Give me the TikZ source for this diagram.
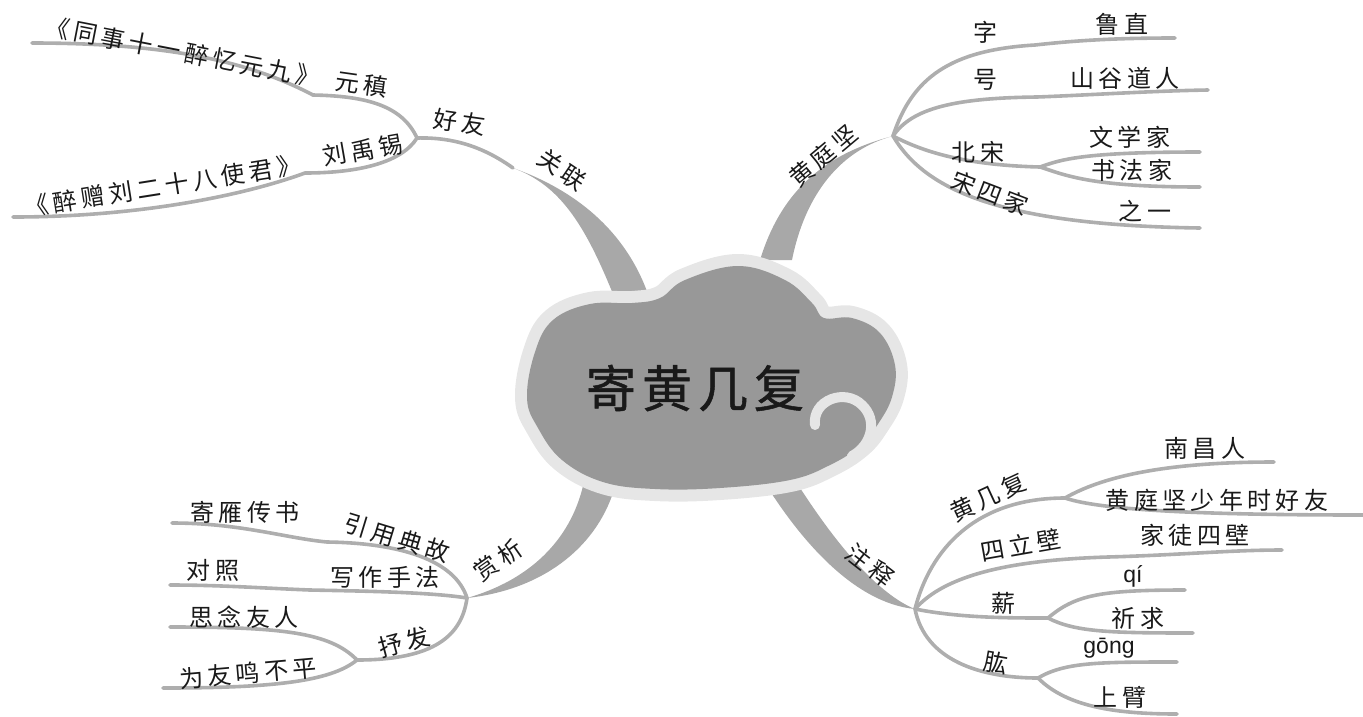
\documentclass[tikz,border=0pt]{standalone}
\usepackage{fontspec}
\setmainfont{Liberation Sans}
\newfontfamily\cjk[LetterSpace=18]{Noto Sans CJK SC}
\newfontfamily\cjkttl[LetterSpace=12, FakeBold=1]{Noto Sans CJK SC}
\usepackage{tikz}
\definecolor{cloudbody}{RGB}{152,152,152}
\definecolor{cloudedge}{RGB}{230,230,230}
\definecolor{trunkc}{RGB}{168,168,168}
\definecolor{twigc}{RGB}{174,174,174}
\definecolor{inkc}{RGB}{25,25,25}

\begin{document}
\begin{tikzpicture}[x=1pt, y=-1pt,
  trunk/.style={fill=trunkc, draw=none},
  twig/.style={draw=twigc, line width=3.6pt, line cap=round},
  lbl/.style={font=\cjk\fontsize{24}{26}\selectfont, text=inkc, inner sep=0pt},
  py/.style={font=\fontsize{23}{26}\selectfont, text=inkc, inner sep=0pt},
  ttl/.style={font=\cjkttl\fontsize{50}{54}\selectfont, text=inkc, inner sep=0pt}]
\useasboundingbox (0,0) rectangle (1363,716);

\coordinate (gl) at (513,168);
\coordinate (hy) at (417,138);
\coordinate (yzk) at (313,95);
\coordinate (yze) at (32,43);
\coordinate (lyk) at (305,173);
\coordinate (lye) at (13,217);
\coordinate (hz) at (893,136);
\coordinate (zik) at (1035,45);
\coordinate (zie) at (1175,38);
\coordinate (haok) at (1037,97);
\coordinate (haoe) at (1208,90);
\coordinate (bsk) at (1040,167);
\coordinate (wxe) at (1200,152);
\coordinate (sfe) at (1200,187);
\coordinate (sje) at (1200,228);
\coordinate (sx) at (467,598);
\coordinate (yyk) at (327,542);
\coordinate (yye) at (172,523);
\coordinate (xzk) at (310,590);
\coordinate (xze) at (170,585);
\coordinate (sfk) at (357,660);
\coordinate (sne) at (170,627);
\coordinate (wye) at (163,688);
\coordinate (zs) at (915,609);
\coordinate (hjk) at (1065,498);
\coordinate (nce) at (1274,462);
\coordinate (hse) at (1363,515);
\coordinate (slk) at (1108,557);
\coordinate (sle) at (1282,550);
\coordinate (xk) at (1048,618);
\coordinate (qie) at (1185,590);
\coordinate (qqe) at (1193,633);
\coordinate (gk) at (1038,678);
\coordinate (gge) at (1177,662);
\coordinate (sbe) at (1177,714);

\fill[trunk] (613,294) .. controls (585,225) and (560,185) .. (gl)
  .. controls (575,190) and (625,230) .. (648,294) -- cycle;
\fill[trunk] (760,260) .. controls (780,195) and (820,155) .. (hz)
  .. controls (840,150) and (805,195) .. (792,260) -- cycle;
\fill[trunk] (583,486) .. controls (570,540) and (530,580) .. (sx)
  .. controls (540,590) and (595,550) .. (614,490) -- cycle;
\fill[trunk] (763,480) .. controls (800,540) and (854,603) .. (zs)
  .. controls (880,595) and (838,548) .. (795,480) -- cycle;

\draw[twig] (gl) .. controls (485,148) and (455,137) .. (hy);
\draw[twig] (hy) .. controls (402,105) and (365,96) .. (yzk)
  .. controls (250,62) and (170,43) .. (yze);
\draw[twig] (hy) .. controls (402,162) and (360,173) .. (lyk)
  .. controls (245,195) and (140,217) .. (lye);

\draw[twig] (hz) .. controls (912,78) and (950,50) .. (zik)
  .. controls (1080,40) and (1120,38) .. (zie);
\draw[twig] (hz) .. controls (912,108) and (955,98) .. (haok)
  .. controls (1090,95) and (1150,91) .. (haoe);
\draw[twig] (hz) .. controls (920,150) and (960,165) .. (bsk);
\draw[twig] (bsk) .. controls (1060,160) and (1080,152) .. (wxe);
\draw[twig] (bsk) .. controls (1065,175) and (1090,187) .. (sfe);
\draw[twig] (hz) .. controls (925,190) and (1000,225) .. (sje);

\draw[twig] (sx) .. controls (455,560) and (400,543) .. (yyk)
  .. controls (285,538) and (240,523) .. (yye);
\draw[twig] (sx) .. controls (430,592) and (360,591) .. (xzk)
  .. controls (260,588) and (220,585) .. (xze);
\draw[twig] (sx) .. controls (462,635) and (435,660) .. (sfk);
\draw[twig] (sfk) .. controls (330,632) and (280,627) .. (sne);
\draw[twig] (sfk) .. controls (330,682) and (270,688) .. (wye);

\draw[twig] (zs) .. controls (930,550) and (975,498) .. (hjk);
\draw[twig] (hjk) .. controls (1100,478) and (1160,462) .. (nce);
\draw[twig] (hjk) .. controls (1100,510) and (1200,515) .. (hse);
\draw[twig] (zs) .. controls (945,575) and (1010,560) .. (slk)
  .. controls (1180,555) and (1230,550) .. (sle);
\draw[twig] (zs) .. controls (960,618) and (1010,618) .. (xk);
\draw[twig] (xk) .. controls (1075,595) and (1100,590) .. (qie);
\draw[twig] (xk) .. controls (1075,632) and (1110,633) .. (qqe);
\draw[twig] (zs) .. controls (925,660) and (980,678) .. (gk);
\draw[twig] (gk) .. controls (1065,662) and (1100,662) .. (gge);
\draw[twig] (gk) .. controls (1065,705) and (1110,714) .. (sbe);

\fill[cloudbody, preaction={draw=cloudedge, line width=24pt, line join=round}]
  plot[smooth cycle, tension=.65] coordinates {
  (527,398) (535,352) (553,320) (590,304) (632,303) (660,298) (685,280)
  (738,266) (785,280) (812,303) (824,318) (852,318) (880,333) (895,365)
  (892,397) (878,424) (860,446) (830,465) (790,480) (720,488) (655,489)
  (603,482) (562,460) (538,428)};
\draw[cloudedge, line width=10pt, line cap=round]
  (815,425) .. controls (812,400) and (845,388) .. (862,405)
  .. controls (878,420) and (872,445) .. (852,456);

\node[ttl] (root) at (695,388) {寄黄几复};

\node[lbl, rotate=-34] (gl-t) at (562,170) {关联};
\node[lbl, rotate=-8] (hy-t) at (460,122) {好友};
\node[lbl, rotate=-11] (yz-t) at (183,52) {《同事十一醉忆元九》};
\node[lbl, rotate=-8] (yj-t) at (362,84) {元稹};
\node[lbl, rotate=10] (lyx-t) at (363,150) {刘禹锡};
\node[lbl, rotate=9] (zz-t) at (163,186) {《醉赠刘二十八使君》};

\node[lbl, rotate=40] (hzj-t) at (823,156) {黄庭坚};
\node[lbl] (zi-t) at (985,32) {字};
\node[lbl] (lz-t) at (1122,24) {鲁直};
\node[lbl] (hao-t) at (985,80) {号};
\node[lbl] (sg-t) at (1125,78) {山谷道人};
\node[lbl] (bs-t) at (978,152) {北宋};
\node[lbl] (wx-t) at (1130,137) {文学家};
\node[lbl] (sf-t) at (1132,170) {书法家};
\node[lbl, rotate=-21] (sj-t) at (990,193) {宋四家};
\node[lbl] (zy-t) at (1145,211) {之一};

\node[lbl, rotate=35] (sx-t) at (498,560) {赏析};
\node[lbl, rotate=-17] (yy-t) at (397,538) {引用典故};
\node[lbl] (jy-t) at (245,512) {寄雁传书};
\node[lbl] (xz-t) at (385,577) {写作手法};
\node[lbl] (dz-t) at (213,570) {对照};
\node[lbl, rotate=15] (sfa-t) at (404,642) {抒发};
\node[lbl] (sn-t) at (244,617) {思念友人};
\node[lbl, rotate=5] (wy-t) at (248,673) {为友鸣不平};

\node[lbl, rotate=-38] (zs-t) at (870,565) {注释};
\node[lbl, rotate=25] (hjf-t) at (988,497) {黄几复};
\node[lbl] (nc-t) at (1205,448) {南昌人};
\node[lbl] (hs-t) at (1217,500) {黄庭坚少年时好友};
\node[lbl, rotate=10] (slb-t) at (1021,545) {四立壁};
\node[lbl] (jt-t) at (1195,535) {家徒四壁};
\node[lbl] (xin-t) at (1003,603) {薪};
\node[py] (qi-t) at (1133,576) {qí};
\node[lbl] (qq-t) at (1138,618) {祈求};
\node[lbl, rotate=-10] (gong-t) at (996,663) {肱};
\node[py] (gg-t) at (1109,648) {gōng};
\node[lbl] (sb-t) at (1120,697) {上臂};
\end{tikzpicture}
\end{document}
